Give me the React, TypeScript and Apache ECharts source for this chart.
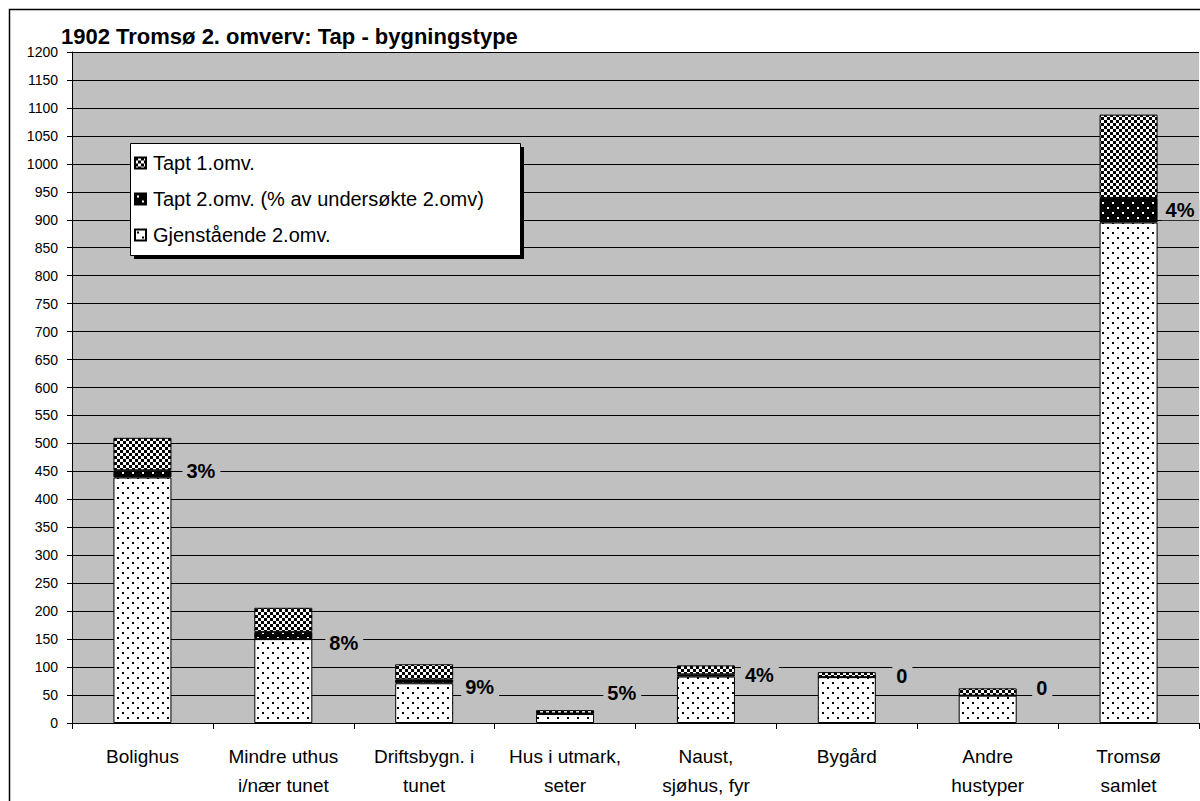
import React, { useEffect, useRef } from 'react';
import * as echarts from 'echarts';

const categories = [
  'Bolighus',
  'Mindre uthus\ni/nær tunet',
  'Driftsbygn. i\ntunet',
  'Hus i utmark,\nseter',
  'Naust,\nsjøhus, fyr',
  'Bygård',
  'Andre\nhustyper',
  'Tromsø\nsamlet',
];
const gjenstaende = [439, 150, 71, 16, 83, 82, 49, 895];
const tapt2 = [13, 13, 7, 1, 4, 0, 0, 44];
const tapt1 = [58, 43, 27, 6, 16, 9, 13, 149];
const tapt2Labels = ['3%', '8%', '9%', '5%', '4%', '0', '0', '4%'];
const seriesNames = ['Gjenstående 2.omv.', 'Tapt 2.omv. (% av undersøkte 2.omv)', 'Tapt 1.omv.'];
const yMin = 0;
const yMax = 1200;
const yInterval = 50;

// style-only nudges for the percent labels (dx, dy)
const labelNudges = [[6, -3], [8, 8], [3, 6], [4, -21], [1, 0], [11, -1], [10, -8], [-1, 0]];

const FONT = '"Liberation Sans", Arial, sans-serif';

function makeTile(w: number, h: number, bg: string, fg: string, cells: number[][]) {
  const c = document.createElement('canvas');
  c.width = w;
  c.height = h;
  const ctx = c.getContext('2d')!;
  ctx.fillStyle = bg;
  ctx.fillRect(0, 0, w, h);
  ctx.fillStyle = fg;
  cells.forEach(([x, y, cw, ch]) => ctx.fillRect(x, y, cw, ch));
  return { image: c.toDataURL(), repeat: 'repeat', imageWidth: w, imageHeight: h } as any;
}

export default function App() {
  const ref = useRef<HTMLDivElement>(null);

  useEffect(() => {
    if (!ref.current) return;
    const chart = echarts.init(ref.current, undefined, { renderer: 'svg' });

    const dotPattern = makeTile(10, 10, '#ffffff', '#000000', [[2, 2, 2, 2], [7, 7, 2, 2]]);
    const darkDotPattern = makeTile(10, 10, '#000000', '#ffffff', [[2, 2, 2, 2], [7, 7, 2, 2]]);
    const checkPattern = makeTile(6, 6, '#ffffff', '#000000', [[0, 0, 3, 3], [3, 3, 3, 3]]);

    const barBase = {
      type: 'bar',
      stack: 'total',
      barWidth: 58,
      itemStyle: { borderColor: '#000', borderWidth: 1 },
    };

    chart.setOption({
      animation: false,
      backgroundColor: '#ffffff',
      textStyle: { fontFamily: FONT, color: '#000' },
      title: {
        text: '1902 Tromsø 2. omverv: Tap - bygningstype',
        left: 61,
        top: 25,
        padding: 0,
        textStyle: { fontFamily: FONT, fontSize: 22, fontWeight: 'bold', color: '#000' },
      },
      graphic: [
        {
          type: 'rect',
          z: 3,
          shape: { x: 9.5, y: 9.5, width: 1220, height: 820 },
          style: { fill: 'none', stroke: '#000', lineWidth: 1.5 },
          silent: true,
        },
        {
          type: 'rect',
          z: 3,
          shape: { x: 134, y: 147, width: 390, height: 112 },
          style: { fill: '#000' },
          silent: true,
        },
        {
          type: 'rect',
          z: 3,
          shape: { x: 130.5, y: 143.5, width: 390, height: 112 },
          style: { fill: '#fff', stroke: '#000', lineWidth: 1 },
          silent: true,
        },
      ],
      legend: {
        orient: 'vertical',
        left: 134,
        top: 153,
        padding: 0,
        z: 5,
        itemGap: 16,
        itemWidth: 11,
        itemHeight: 11,
        icon: 'rect',
        data: [seriesNames[2], seriesNames[1], seriesNames[0]],
        textStyle: { fontFamily: FONT, fontSize: 20, color: '#000', padding: [0, 0, 0, 2] },
      },
      grid: {
        left: 72,
        right: 1,
        top: 52,
        bottom: 78,
        show: true,
        backgroundColor: '#c0c0c0',
        borderWidth: 0,
      },
      xAxis: {
        type: 'category',
        data: categories,
        axisLine: { lineStyle: { color: '#000', width: 1 } },
        axisTick: { show: true, alignWithLabel: false, interval: 0, length: 6, lineStyle: { color: '#000' } },
        axisLabel: {
          interval: 0,
          fontSize: 19,
          lineHeight: 29,
          margin: 19,
          color: '#000',
          fontFamily: FONT,
        },
      },
      yAxis: {
        type: 'value',
        min: yMin,
        max: yMax,
        interval: yInterval,
        axisLine: { show: true, lineStyle: { color: '#000', width: 1 } },
        axisTick: { show: true, length: 5, lineStyle: { color: '#000' } },
        axisLabel: {
          fontSize: 14,
          color: '#000',
          margin: 14,
          fontFamily: FONT,
          formatter: (v: number) => String(v),
        },
        splitLine: { show: true, lineStyle: { color: '#000', width: 1 } },
      },
      series: [
        {
          ...barBase,
          name: seriesNames[0],
          data: gjenstaende,
          itemStyle: { ...barBase.itemStyle, color: dotPattern },
        },
        {
          ...barBase,
          name: seriesNames[1],
          itemStyle: { ...barBase.itemStyle, color: darkDotPattern },
          data: tapt2,
          label: {
            show: true,
            position: 'right',
            distance: 5,
            formatter: (p: any) => tapt2Labels[p.dataIndex],
            fontFamily: FONT,
            fontSize: 20,
            fontWeight: 'bold',
            color: '#000',
            backgroundColor: '#c0c0c0',
            padding: [0, 5, 0, 4],
            lineHeight: 20,
          },
          labelLayout: (params: any) => {
            const n = labelNudges[params.dataIndex] || [0, 0];
            return { dx: n[0], dy: n[1], hideOverlap: false };
          },
        },
        {
          ...barBase,
          name: seriesNames[2],
          data: tapt1,
          itemStyle: { ...barBase.itemStyle, color: checkPattern },
        },
      ],
    });

    return () => chart.dispose();
  }, []);

  return (
    <div
      ref={ref}
      style={{ position: 'fixed', left: 0, top: 0, width: 1200, height: 801 }}
    />
  );
}
